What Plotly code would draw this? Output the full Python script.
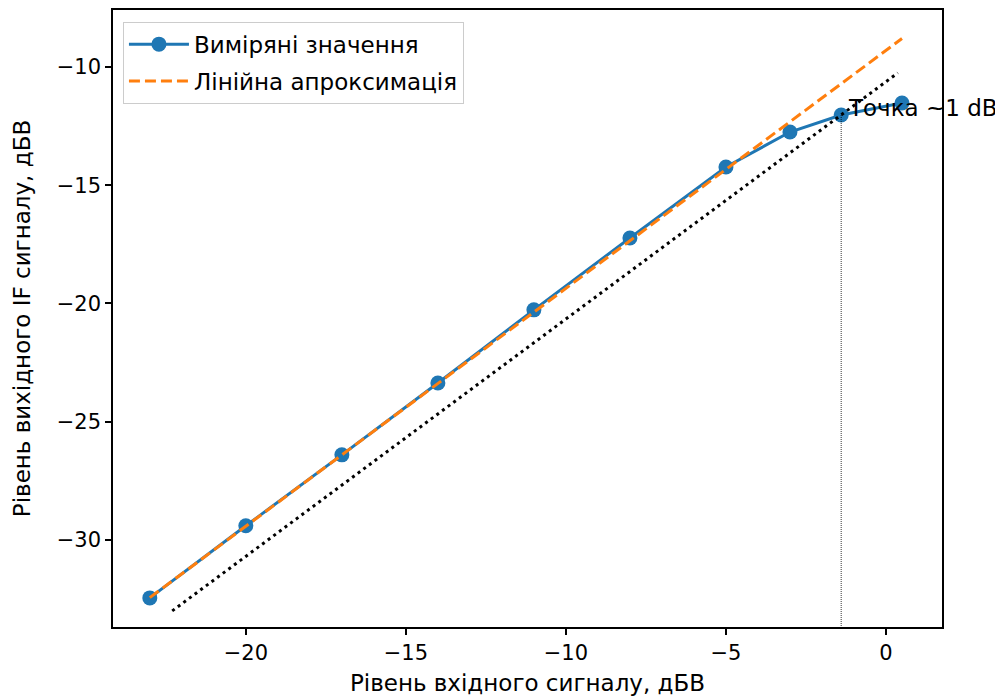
import plotly.graph_objects as go

# Data
x_meas = [-23, -20, -17, -14, -11, -8, -5, -3, -1.4, 0.5]
y_meas = [-32.45, -29.4, -26.4, -23.36, -20.27, -17.23, -14.23, -12.75, -12.03, -11.52]

fit_x = [-23, 0.5]
fit_slope = 1.006
fit_intercept = -9.3
fit_y = [fit_slope * v + fit_intercept for v in fit_x]

ref_x = [-22.3, 0.37]
ref_y = [-33.0, -10.25]

p1_x = -1.4
p1_y = -12.03
y_range = [-33.68, -7.59]
x_range = [-24.15, 1.75]

x_ticks = [-20, -15, -10, -5, 0]
y_ticks = [-30, -25, -20, -15, -10]

FONT = "DejaVu Sans"
TXT = 23
TICK = 21


def fmt(v):
    return "\u2212" + str(abs(v)) if v < 0 else str(v)


fig = go.Figure()
fig.add_trace(go.Scatter(
    x=x_meas, y=y_meas, mode="lines+markers", name="Виміряні значення",
    legendgroup="a",
    line=dict(color="#1f77b4", width=3), marker=dict(color="#1f77b4", size=15),
))
fig.add_trace(go.Scatter(
    x=fit_x, y=fit_y, mode="lines", name="Лінійна апроксимація",
    legendgroup="b",
    line=dict(color="#ff7f0e", width=3, dash="11px,5px"),
))
fig.add_trace(go.Scatter(
    x=ref_x, y=ref_y, mode="lines", showlegend=False,
    line=dict(color="black", width=3, dash="3px,4px"),
))
fig.add_trace(go.Scatter(
    x=[p1_x, p1_x], y=[p1_y, y_range[0]], mode="lines", showlegend=False,
    line=dict(color="black", width=0.8, dash="1px,1px"),
))
fig.add_annotation(
    x=p1_x, y=p1_y, xref="x", yref="y", text="Точка ~1 dB", showarrow=False,
    xanchor="left", yanchor="middle", xshift=5, yshift=7,
    font=dict(family=FONT, size=TXT, color="black"),
)

axis_common = dict(
    showgrid=False, zeroline=False, showline=True, linecolor="black", linewidth=1.6,
    mirror=True, ticks="outside", ticklen=6, tickwidth=1.6, tickcolor="black",
    tickfont=dict(family=FONT, size=TICK, color="black"),
)
fig.update_xaxes(
    range=x_range, tickvals=x_ticks, ticktext=[fmt(v) for v in x_ticks],
    title=dict(text="Рівень вхідного сигналу, дБВ", font=dict(family=FONT, size=TXT, color="black"), standoff=11),
    **axis_common,
)
fig.update_yaxes(
    range=y_range, tickvals=y_ticks, ticktext=[fmt(v) for v in y_ticks],
    title=dict(text="Рівень вихідного IF сигналу, дБВ", font=dict(family=FONT, size=TXT, color="black"), standoff=20),
    **axis_common,
)
fig.update_layout(
    width=1003, height=699,
    margin=dict(l=105, r=69, t=2, b=80, autoexpand=False),
    paper_bgcolor="white", plot_bgcolor="white",
    font=dict(family=FONT, size=TXT, color="black"),
    legend=dict(
        x=0.012, y=0.981, xanchor="left", yanchor="top",
        bgcolor="rgba(255,255,255,0.8)", bordercolor="#cccccc", borderwidth=1,
        font=dict(family=FONT, size=TXT, color="black"), itemwidth=60, tracegroupgap=4,
    ),
)
fig.write_html("out.html")
